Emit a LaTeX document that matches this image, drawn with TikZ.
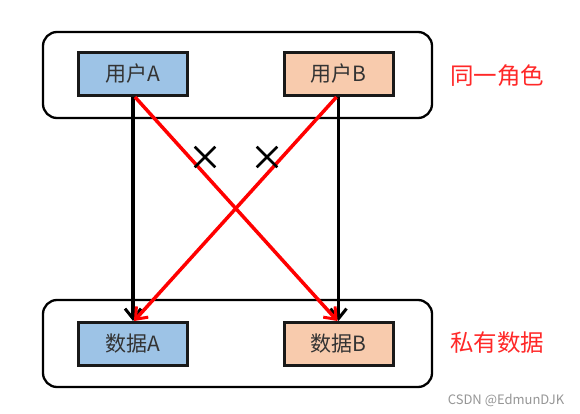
\documentclass[tikz,border=0pt]{standalone}
\usepackage{fontspec}
\setmainfont{Noto Sans CJK SC}
\usetikzlibrary{arrows.meta,shapes.misc}
\definecolor{boxblue}{RGB}{157,195,230}
\definecolor{boxorange}{RGB}{248,203,173}
\definecolor{linered}{RGB}{255,0,0}
\definecolor{labelred}{RGB}{255,40,40}
\definecolor{wmgray}{RGB}{150,150,150}
\tikzset{
  group/.style={draw=black, line width=2.3pt, rounded corners=14pt},
  item/.style={draw=black!90, line width=3pt, minimum width=109pt, minimum height=43pt, inner sep=0pt, font=\fontsize{21}{24}\selectfont, text=black!80},
  blackarrow/.style={draw=black, line width=3.5pt, -{Straight Barb[length=10pt,width=16pt,line width=3pt]}},
  redarrow/.style={draw=linered, line width=3.5pt, -{Straight Barb[length=10pt,width=16pt,line width=3pt]}},
  sidelabel/.style={text=labelred, font=\fontsize{23.5}{26}\selectfont},
  nogo/.style={cross out, draw=black, line width=2.6pt, minimum size=18pt, inner sep=0pt},
}
\begin{document}
\begin{tikzpicture}[x=1pt,y=-1pt]
\useasboundingbox (0,0) rectangle (580,414);
\fill[white] (0,0) rectangle (580,414);
\draw[group] (43,32) rectangle (432,118);
\draw[group] (43,300) rectangle (432,387);
\node[item, fill=boxblue] (ua) at (133,74) {用户A};
\node[item, fill=boxorange] (ub) at (338.5,74) {用户B};
\node[item, fill=boxblue] (da) at (133,344) {数据A};
\node[item, fill=boxorange] (db) at (338.5,344) {数据B};
\draw[blackarrow] (ua.south) -- (da.north);
\draw[blackarrow] (ub.south) -- (db.north);
\draw[redarrow] ([xshift=2pt]ua.south) -- ([xshift=-1pt]db.north);
\draw[redarrow] ([xshift=-2pt]ub.south) -- ([xshift=1pt]da.north);
\node[nogo] (x1) at (205,157) {};
\node[nogo] (x2) at (267,157) {};
\node[sidelabel] (l1) at (497,76) {同一角色};
\node[sidelabel] (l2) at (497,343) {私有数据};
\node[text=wmgray, font=\fontsize{13}{15}\selectfont] (wm) at (506,400) {CSDN @EdmunDJK};
\end{tikzpicture}
\end{document}
